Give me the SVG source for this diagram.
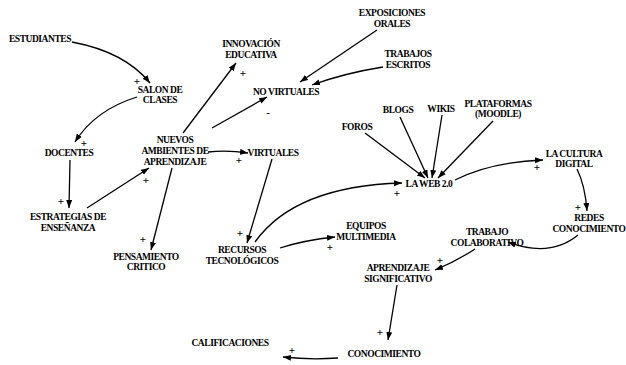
<svg xmlns="http://www.w3.org/2000/svg" width="626" height="365" viewBox="0 0 626 365">
<style>
text{font-family:"Liberation Serif","Times New Roman",serif;font-weight:bold;font-size:9.5px;letter-spacing:-0.45px;fill:#000;text-anchor:middle}
.s{font-size:11px;letter-spacing:0}
.c path{fill:none;stroke:#000;stroke-width:1.3;marker-end:url(#a)}
</style>
<defs>
<marker id="a" markerUnits="userSpaceOnUse" markerWidth="9" markerHeight="7" refX="8" refY="3" orient="auto"><path d="M0,0 L8,3 L0,6 z" fill="#000"/></marker>
</defs>
<rect width="626" height="365" fill="#fff"/>
<g class="c" id="connectors">
<path d="M72,42 Q125,52 150,83"/>
<path d="M137,97 Q95,110 75,142"/>
<path d="M70,160 L69,208"/>
<path d="M87,208 L149,168"/>
<path d="M183,133 L236,63"/>
<path d="M212,128 L267,97"/>
<path d="M377,30 L300,82"/>
<path d="M383,67 Q345,73 312,85"/>
<path d="M208,152 Q228,150 248,153"/>
<path d="M172,168 L151,250"/>
<path d="M272,159 L247,243"/>
<path d="M255,242 Q295,186 402,183"/>
<path d="M280,248 Q305,240 335,237"/>
<path d="M365,133 L425,178"/>
<path d="M400,117 L428,178"/>
<path d="M442,115 L432,178"/>
<path d="M493,121 L438,178"/>
<path d="M455,180 Q490,162 543,160"/>
<path d="M577,169 Q585,185 587,211"/>
<path d="M578,235 Q550,258 508,242"/>
<path d="M475,249 Q455,262 435,270"/>
<path d="M397,285 L388,340"/>
<path d="M338,358 Q310,360 283,357"/>
</g>
<g id="signs">
<text class="s" x="137" y="85">+</text>
<text class="s" x="243" y="77">+</text>
<text class="s" x="84" y="147">+</text>
<text class="s" x="61" y="205">+</text>
<text class="s" x="146" y="184">+</text>
<text class="s" x="239" y="164">+</text>
<text class="s" x="143" y="243">+</text>
<text class="s" x="240" y="237">+</text>
<text class="s" x="397" y="197">+</text>
<text class="s" x="330" y="251">+</text>
<text class="s" x="537" y="171">+</text>
<text class="s" x="578" y="211">+</text>
<text class="s" x="440" y="264">+</text>
<text class="s" x="380" y="336">+</text>
<text class="s" x="292" y="354">+</text>
<text class="s" x="268" y="116">-</text>
</g>
<g id="estudiantes"><text x="40" y="42">ESTUDIANTES</text></g>
<g id="salon"><text x="160" y="93">SALON DE</text><text x="160" y="103">CLASES</text></g>
<g id="innovacion"><text x="251" y="47">INNOVACIÓN</text><text x="251" y="58">EDUCATIVA</text></g>
<g id="exposiciones"><text x="392" y="16">EXPOSICIONES</text><text x="392" y="27">ORALES</text></g>
<g id="trabajos"><text x="408" y="57">TRABAJOS</text><text x="408" y="68">ESCRITOS</text></g>
<g id="novirtuales"><text x="286" y="95">NO VIRTUALES</text></g>
<g id="nuevos"><text x="175" y="143">NUEVOS</text><text x="175" y="154">AMBIENTES DE</text><text x="175" y="165">APRENDIZAJE</text></g>
<g id="docentes"><text x="69" y="156">DOCENTES</text></g>
<g id="virtuales"><text x="273" y="156">VIRTUALES</text></g>
<g id="estrategias"><text x="68" y="220">ESTRATEGIAS DE</text><text x="68" y="231">ENSEÑANZA</text></g>
<g id="pensamiento"><text x="146" y="260">PENSAMIENTO</text><text x="146" y="270">CRITICO</text></g>
<g id="recursos"><text x="242" y="253">RECURSOS</text><text x="242" y="264">TECNOLÓGICOS</text></g>
<g id="equipos"><text x="366" y="229">EQUIPOS</text><text x="366" y="240">MULTIMEDIA</text></g>
<g id="foros"><text x="357" y="130">FOROS</text></g>
<g id="blogs"><text x="398" y="113">BLOGS</text></g>
<g id="wikis"><text x="441" y="112">WIKIS</text></g>
<g id="plataformas"><text x="498" y="107">PLATAFORMAS</text><text x="498" y="117">(MOODLE)</text></g>
<g id="web"><text x="429" y="187">LA WEB 2.0</text></g>
<g id="cultura"><text x="574" y="157">LA CULTURA</text><text x="574" y="167">DIGITAL</text></g>
<g id="redes"><text x="589" y="221">REDES</text><text x="589" y="232">CONOCIMIENTO</text></g>
<g id="trabajo"><text x="487" y="235">TRABAJO</text><text x="487" y="246">COLABORATIVO</text></g>
<g id="aprendizaje"><text x="398" y="271">APRENDIZAJE</text><text x="398" y="282">SIGNIFICATIVO</text></g>
<g id="conocimiento"><text x="384" y="357">CONOCIMIENTO</text></g>
<g id="calificaciones"><text x="230" y="346">CALIFICACIONES</text></g>
</svg>
